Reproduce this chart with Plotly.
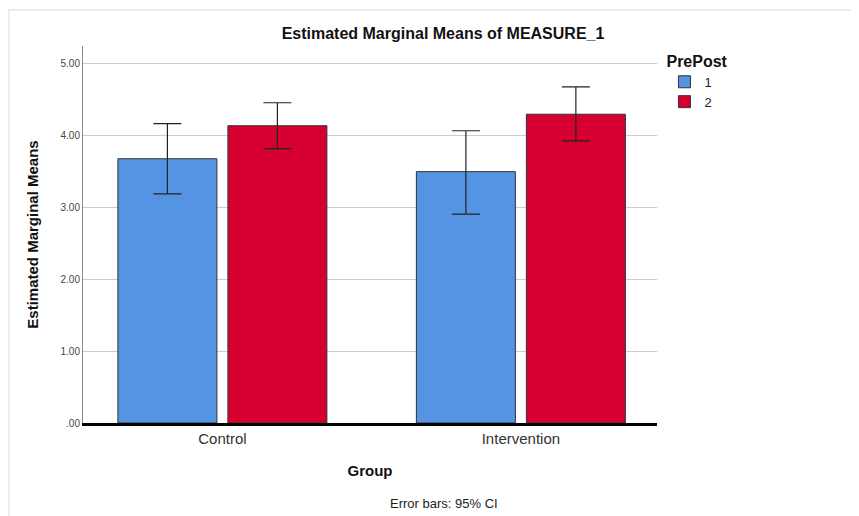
import plotly.graph_objects as go

groups = ["Control", "Intervention"]
prepost_labels = ["1", "2"]
means_pre = [3.68, 3.50]
ci_upper_pre = [4.17, 4.07]
ci_lower_pre = [3.19, 2.91]
means_post = [4.14, 4.30]
ci_upper_post = [4.46, 4.68]
ci_lower_post = [3.82, 3.93]
ytick_vals = [0, 1, 2, 3, 4, 5]
ytick_text = [".00", "1.00", "2.00", "3.00", "4.00", "5.00"]

colors = ["#5594E3", "#D5002F"]
FONT = "Liberation Sans, Arial, sans-serif"

# page offset (browser body margin) is 8px
W, H = 851, 508
L, R, T, B = 75, 202, 38, 93
PW, PH = W - L - R, H - T - B

fig = go.Figure()
series = [
    (means_pre, ci_upper_pre, ci_lower_pre),
    (means_post, ci_upper_post, ci_lower_post),
]
for (m, up, lo), name, col in zip(series, prepost_labels, colors):
    fig.add_trace(go.Bar(
        x=groups, y=m, name=name,
        marker=dict(color=col, line=dict(color="#333333", width=1)),
        error_y=dict(type="data", symmetric=False,
                     array=[u - v for u, v in zip(up, m)],
                     arrayminus=[v - l for v, l in zip(m, lo)],
                     color="#222222", thickness=1.2, width=14),
    ))

fig.update_layout(
    width=W, height=H,
    paper_bgcolor="white", plot_bgcolor="white",
    margin=dict(l=L, r=R, t=T, b=B),
    barmode="group", bargap=0.263, bargroupgap=0.1,
    font=dict(family=FONT, color="#222222"),
    title=dict(text="<b>Estimated Marginal Means of MEASURE_1</b>",
               x=(443 - 8) / W, xanchor="center", y=1 - (33 - 8) / H, yanchor="middle",
               font=dict(size=16, color="#111111")),
    showlegend=True,
    legend=dict(
        title=dict(text="<b>PrePost</b>", font=dict(size=16, color="#111111"), side="top"),
        x=1.013, xanchor="left", y=1.0, yanchor="top",
        font=dict(size=13, color="#222222"),
        tracegroupgap=0, itemwidth=30,
    ),
    xaxis=dict(
        range=[-0.467, 1.456],
        showline=True, linecolor="black", linewidth=3,
        ticks="", tickfont=dict(size=15, color="#333333"),
        title=dict(text="<b>Group</b>", font=dict(size=15, color="#111111"), standoff=20),
        showgrid=False, zeroline=False,
    ),
    yaxis=dict(
        range=[0, 5.25],
        tickvals=ytick_vals, ticktext=ytick_text,
        tickfont=dict(size=10, color="#444444"),
        showline=True, linecolor="#888888", linewidth=1,
        showgrid=True, gridcolor="#CCCCCC", gridwidth=1,
        zeroline=False, ticks="",
        title=dict(text="<b>Estimated Marginal Means</b>", font=dict(size=15, color="#111111"), standoff=18),
    ),
    shapes=[
        dict(type="line", xref="paper", yref="paper",
             x0=-L / PW, x1=(W - L) / PW, y0=(PH + T - 2) / PH, y1=(PH + T - 2) / PH,
             line=dict(color="#DDDDDD", width=1)),
        dict(type="line", xref="paper", yref="paper",
             x0=(-L + 1) / PW, x1=(-L + 1) / PW, y0=(PH + T - 2) / PH, y1=-B / PH,
             line=dict(color="#DDDDDD", width=1)),
    ],
    annotations=[
        dict(text="Error bars: 95% CI", xref="paper", yref="paper",
             x=(444 - 83) / PW, y=(423 - 503) / PH, xanchor="center", yanchor="middle",
             showarrow=False, font=dict(size=13, color="#222222")),
    ],
)

fig.write_html("out.html")
